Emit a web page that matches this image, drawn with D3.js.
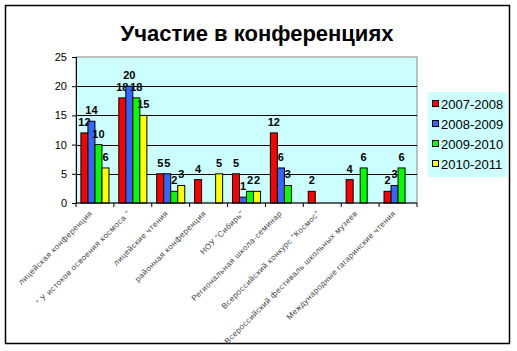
<!DOCTYPE html>
<meta charset="utf-8">
<style>
body { margin: 0; background: #fff; }
text { font-family: Arial, "Liberation Sans", sans-serif; }
.title { font-size: 22px; font-weight: bold; }
.tick text { font-size: 11px; }
.val { font-size: 11px; font-weight: bold; }
.cat { font-size: 8px; fill: #444; letter-spacing: 0.45px; }
.legendLabel { font-size: 13px; }
</style>
<body>
<script src="https://d3js.org/d3.v7.min.js"></script>
<script>
let categories = [
    "лицейская конференция",
    "\" У истоков освоения космоса \"",
    "лицейские чтения",
    "районная конференция",
    "НОУ \"Сибирь\"",
    "Региональная школа-семинар",
    "Всероссийский конкурс \"Космос\"",
    "Всероссийский фестиваль школьных музеев",
    "Международные гагаринские чтения"
];
let seriesNames = ["2007-2008", "2008-2009", "2009-2010", "2010-2011"];
let s2007 = [12, 18, 5, 4, 5, 12, 2, 4, 2];
let s2008 = [14, 20, 5, 0, 1, 6, 0, 0, 3];
let s2009 = [10, 18, 2, 0, 2, 3, 0, 6, 6];
let s2010 = [6, 15, 3, 5, 2, 0, 0, 0, 0];
let yTicks = [0, 5, 10, 15, 20, 25];
let colors = ["#ff0000", "#3366ff", "#00ff00", "#ffff00"];

let width = 517, height = 351,
    pLeft = 76, pRight = 417, pTop = 57, pBottom = 203;

let svg = d3.select("body").append("svg")
    .attr("width", width)
    .attr("height", height);

// outer frame
svg.append("rect")
    .attr("x", 5.5).attr("y", 5.5)
    .attr("width", 504).attr("height", 338)
    .attr("fill", "#fff").attr("stroke", "#000").attr("stroke-width", 1.5);

svg.append("text")
    .attr("class", "title")
    .attr("x", 257).attr("y", 41)
    .attr("text-anchor", "middle")
    .text("Участие в конференциях");

let x = d3.scaleBand().domain(categories).range([pLeft, pRight]).paddingInner(0).paddingOuter(0);
let xs = d3.scaleBand().domain(seriesNames).range([0, x.bandwidth()]).paddingInner(0).paddingOuter(0.7);
let y = d3.scaleLinear().domain([0, 25]).range([pBottom, pTop]);

// plot background
svg.append("rect")
    .attr("x", pLeft).attr("y", pTop)
    .attr("width", pRight - pLeft).attr("height", pBottom - pTop)
    .attr("fill", "#ccffff").attr("stroke", "#888");

// gridlines
svg.append("g")
    .selectAll("line")
    .data(yTicks.slice(1, -1))
    .join("line")
        .attr("x1", pLeft).attr("x2", pRight)
        .attr("y1", d => Math.round(y(d)) + 0.5).attr("y2", d => Math.round(y(d)) + 0.5)
        .attr("stroke", "#000");

let rows = seriesNames.map((s, i) => ({name: s, color: colors[i], values: [s2007, s2008, s2009, s2010][i]}));

let groups = svg.append("g")
    .selectAll("g")
    .data(rows)
    .join("g")
        .attr("fill", d => d.color);

groups.selectAll("rect")
    .data(d => d.values.map((v, j) => ({v, cat: categories[j], s: d.name})).filter(e => e.v > 0))
    .join("rect")
        .attr("x", d => x(d.cat) + xs(d.s))
        .attr("y", d => y(d.v))
        .attr("width", xs.bandwidth())
        .attr("height", d => y(0) - y(d.v))
        .attr("stroke", "#000")
        .attr("stroke-width", 1);

groups.selectAll("text")
    .data(d => d.values.map((v, j) => ({v, cat: categories[j], s: d.name})).filter(e => e.v > 0))
    .join("text")
        .attr("class", "val")
        .attr("fill", "#000")
        .attr("text-anchor", "middle")
        .attr("x", d => x(d.cat) + xs(d.s) + xs.bandwidth() / 2)
        .attr("y", d => y(d.v) - 7)
        .text(d => d.v);

// y axis
let yAxis = svg.append("g")
    .attr("transform", `translate(${pLeft},0)`)
    .call(d3.axisLeft(y).tickValues(yTicks).tickSize(4).tickPadding(5));
yAxis.select(".domain").attr("stroke", "#000");

// x axis
let xg = svg.append("g").attr("transform", `translate(0,${pBottom})`);
xg.append("line").attr("x1", pLeft).attr("x2", pRight).attr("stroke", "#000");
xg.selectAll("line.t")
    .data(d3.range(categories.length + 1))
    .join("line")
        .attr("class", "t")
        .attr("x1", i => pLeft + i * x.step()).attr("x2", i => pLeft + i * x.step())
        .attr("y1", 0).attr("y2", 4)
        .attr("stroke", "#000");

xg.selectAll("text.cat")
    .data(categories)
    .join("text")
        .attr("class", "cat")
        .attr("text-anchor", "end")
        .attr("transform", d => `translate(${x(d) + x.bandwidth() / 2 - 2},${11}) rotate(-45)`)
        .text(d => d);

// legend
let legend_g = svg.append("g").attr("transform", "translate(428,92)");
legend_g.append("rect")
    .attr("width", 79).attr("height", 85)
    .attr("fill", "#ccffff");

let li = legend_g.selectAll("g")
    .data(rows)
    .join("g")
        .attr("transform", (d, i) => `translate(4,${12 + i * 20})`);
li.append("rect")
    .attr("x", 0.5).attr("y", -3.5)
    .attr("width", 6).attr("height", 6)
    .attr("fill", d => d.color).attr("stroke", "#000");
li.append("text")
    .attr("class", "legendLabel")
    .attr("x", 9).attr("y", 0)
    .attr("dy", "0.35em")
    .text(d => d.name);
</script>
</body>
